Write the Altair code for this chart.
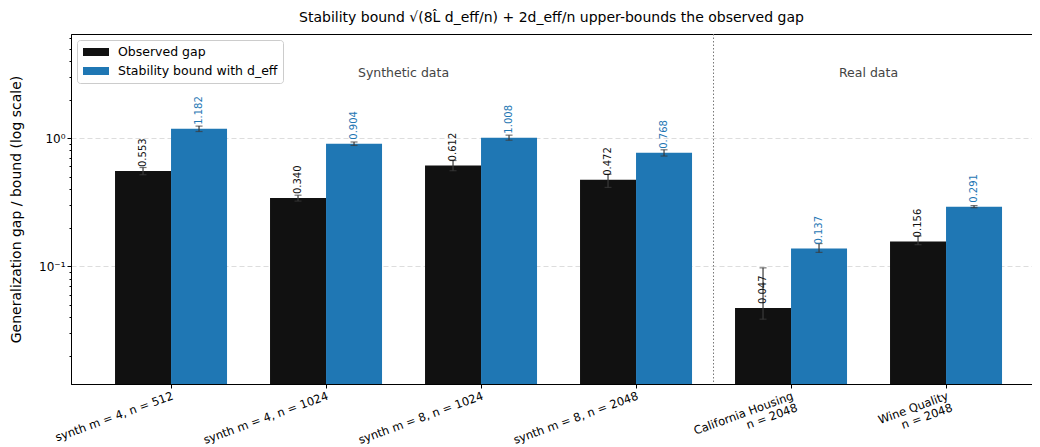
import altair as alt
import pandas as pd

categories = [
    "synth m = 4, n = 512",
    "synth m = 4, n = 1024",
    "synth m = 8, n = 1024",
    "synth m = 8, n = 2048",
    "California Housing\nn = 2048",
    "Wine Quality\nn = 2048",
]
series = ["Observed gap", "Stability bound with d_eff"]
observed = [0.553, 0.340, 0.612, 0.472, 0.047, 0.156]
observed_lo = [0.517, 0.322, 0.556, 0.412, 0.0385, 0.147]
observed_hi = [0.589, 0.358, 0.668, 0.522, 0.0969, 0.172]
bound = [1.182, 0.904, 1.008, 0.768, 0.137, 0.291]
bound_lo = [1.125, 0.876, 0.962, 0.724, 0.128, 0.286]
bound_hi = [1.240, 0.932, 1.054, 0.810, 0.150, 0.297]
region_names = ["Synthetic data", "Real data"]
region_anchor = [categories[1], categories[4]]
separator_after = [categories[3]]
y_ticks = [0.02, 0.03, 0.04, 0.05, 0.06, 0.07, 0.08, 0.09, 0.1,
           0.2, 0.3, 0.4, 0.5, 0.6, 0.7, 0.8, 0.9, 1,
           2, 3, 4, 5, 6]
colors = ["#111111", "#1f77b4"]

rows = []
for i, c in enumerate(categories):
    rows.append({"cat": c, "series": series[0], "value": observed[i],
                 "lo": observed_lo[i], "hi": observed_hi[i]})
    rows.append({"cat": c, "series": series[1], "value": bound[i],
                 "lo": bound_lo[i], "hi": bound_hi[i]})
df = pd.DataFrame(rows)

W, H = 961, 350
pad_inner = 0.2774
pad_outer = 0.2387
band_align = 0.595
step = W / (len(categories) - pad_inner + 2 * pad_outer)
# offset from a band's start to the middle of the gap after it
gap_mid = step * (1 - pad_inner / 2)

xscale = alt.Scale(domain=categories, paddingInner=pad_inner, paddingOuter=pad_outer,
                   align=band_align)
yscale = alt.Scale(type="log", domain=[0.012, 6.5], nice=False)
cscale = alt.Scale(domain=series, range=colors)

major = "datum.value == 1 || datum.value == 0.1"

x_enc = alt.X("cat:N", scale=xscale, sort=categories, title=None,
              axis=alt.Axis(labelAngle=-20, labelAlign="right", labelBaseline="top",
                            labelExpr="split(datum.label, '\\n')", labelFontSize=11.5,
                            labelLineHeight=12.5, tickSize=4, labelPadding=2,
                            domainColor="black", tickColor="black", labelColor="black"))
y_enc = alt.Y("value:Q", scale=yscale, stack=None,
              title="Generalization gap / bound (log scale)",
              axis=alt.Axis(values=y_ticks,
                            labelExpr="datum.value == 1 ? '10⁰' : (datum.value == 0.1 ? '10⁻¹' : '')",
                            tickSize={"condition": {"test": major, "value": 4}, "value": 2},
                            gridOpacity={"condition": {"test": major, "value": 1}, "value": 0},
                            gridDash=[5, 3], gridColor="#dddddd", labelFontSize=12,
                            titleFontSize=14, titleFontWeight="normal", titlePadding=15,
                            domainColor="black", tickColor="black", labelColor="black",
                            titleColor="black"))
xo = alt.XOffset("series:N", sort=series, scale=alt.Scale(domain=series, paddingInner=0))

base = alt.Chart(df)

bars = base.mark_bar().encode(
    x=x_enc, y=y_enc, xOffset=xo,
    color=alt.Color("series:N", scale=cscale, title=None,
                    legend=alt.Legend(orient="top-left", offset=6,
                                      symbolType="M-1.857,-0.571L1.857,-0.571L1.857,0.571L-1.857,0.571Z",
                                      symbolSize=196, symbolStrokeWidth=0,
                                      symbolOffset=7, labelOffset=15,
                                      labelFontSize=12.5, labelColor="black",
                                      fillColor="rgba(255,255,255,0.85)", strokeColor="#cccccc",
                                      cornerRadius=3, padding=5, rowPadding=5,
                                      labelLimit=300)),
)

err = base.mark_rule(color="#3a3a3a", strokeWidth=1.2).encode(
    x=alt.X("cat:N", scale=xscale, sort=categories), xOffset=xo,
    y=alt.Y("lo:Q", scale=yscale), y2="hi:Q",
)
cap_lo = base.mark_tick(color="#3a3a3a", size=7, thickness=1.2).encode(
    x=alt.X("cat:N", scale=xscale, sort=categories), xOffset=xo,
    y=alt.Y("lo:Q", scale=yscale),
)
cap_hi = base.mark_tick(color="#3a3a3a", size=7, thickness=1.2).encode(
    x=alt.X("cat:N", scale=xscale, sort=categories), xOffset=xo,
    y=alt.Y("hi:Q", scale=yscale),
)

labels = base.mark_text(angle=270, align="left", baseline="middle", dx=4,
                        fontSize=10).encode(
    x=alt.X("cat:N", scale=xscale, sort=categories), xOffset=xo,
    y=alt.Y("value:Q", scale=yscale),
    text=alt.Text("value:Q", format=".3f"),
    color=alt.Color("series:N", scale=cscale, legend=None),
)

sep_df = pd.DataFrame({"cat": separator_after})
sep = alt.Chart(sep_df).mark_rule(color="#777777", strokeDash=[1.5, 2], strokeWidth=1).encode(
    x=alt.X("cat:N", scale=xscale, sort=categories),
    xOffset=alt.value(gap_mid),
)

reg_df = pd.DataFrame({"cat": region_anchor, "name": region_names, "y": [3.2, 3.2]})
regions = alt.Chart(reg_df).mark_text(fontSize=12.5, color="#444444", baseline="middle").encode(
    x=alt.X("cat:N", scale=xscale, sort=categories),
    xOffset=alt.value(gap_mid),
    y=alt.Y("y:Q", scale=yscale),
    text="name:N",
)

chart = alt.layer(bars, err, cap_lo, cap_hi, labels, sep, regions).properties(
    width=W, height=H,
    title=alt.Title("Stability bound √(8L̂ d_eff/n) + 2d_eff/n upper-bounds the observed gap",
                    fontSize=14, fontWeight="normal", color="black", offset=9),
    autosize=alt.AutoSizeParams(type="none"),
    padding={"left": 63, "top": 26, "right": 0, "bottom": 62},
).configure(font="DejaVu Sans").configure_view(stroke="black", strokeWidth=1)

chart.save("out.html", embed_options={"renderer": "svg", "actions": False})
